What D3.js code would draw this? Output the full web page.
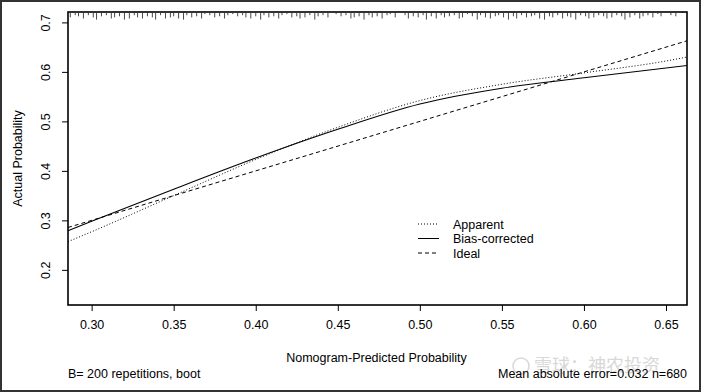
<!DOCTYPE html>
<html>
<head>
<meta charset="utf-8">
<script src="https://cdn.jsdelivr.net/npm/d3@7"></script>
<style>
  body { margin: 0; background: #fff; }
  text { font-family: "Liberation Sans", Arial, sans-serif; fill: #000; }
</style>
</head>
<body>
<div id="chart"></div>
<script>
// calibration curves
var predX = [0.2856, 0.30, 0.35, 0.40, 0.45, 0.50, 0.55, 0.60, 0.65, 0.6628];
var apparent = [0.257, 0.277, 0.350, 0.423, 0.488, 0.542, 0.575, 0.598, 0.622, 0.630];
var biasCorrected = [0.279, 0.298, 0.363, 0.426, 0.484, 0.535, 0.567, 0.588, 0.608, 0.613];
var ideal = [0.2856, 0.6628];

var xTicks = [0.30, 0.35, 0.40, 0.45, 0.50, 0.55, 0.60, 0.65];
var yTicks = [0.2, 0.3, 0.4, 0.5, 0.6, 0.7];

// distribution of predicted risk (spikes at the top)
var rugProb = [0.287,0.290,0.292,0.295,0.298,0.301,0.303,0.306,0.309,0.312,0.314,0.317,0.320,0.323,0.326,0.328,
  0.331,0.334,0.337,0.339,0.342,0.345,0.348,0.350,0.353,0.356,0.358,0.361,0.364,0.367,0.369,0.372,0.375,
  0.378,0.381,0.383,0.386,0.389,0.392,0.394,0.397,0.400,0.403,0.405,0.408,0.411,0.414,0.416,0.419,0.422,
  0.425,0.427,0.430,0.433,0.436,0.438,0.441,0.444,0.447,0.449,0.452,0.455,0.458,0.460,0.463,0.466,0.469,
  0.471,0.474,0.477,0.480,0.482,0.485,0.488,0.491,0.493,0.496,0.499,0.502,0.504,0.507,0.510,0.513,0.515,
  0.518,0.521,0.524,0.526,0.529,0.532,0.535,0.537,0.540,0.543,0.546,0.548,0.551,0.554,0.557,0.559,0.562,
  0.565,0.568,0.570,0.573,0.576,0.579,0.581,0.584,0.587,0.590,0.592,0.595,0.598,0.601,0.603,0.606,0.609,
  0.612,0.614,0.617,0.620,0.623,0.625,0.628,0.631,0.634,0.636,0.639,0.642,0.645,0.647,0.650,0.653,0.656,0.660];
var rugCount = [4,2,3,5,2,4,6,3,2,5,4,3,6,5,2,4,
  5,3,4,6,2,5,4,3,5,6,2,4,3,5,1,2,4,
  3,5,2,1,3,2,4,5,3,6,2,4,3,5,2,1,4,
  3,5,4,2,6,3,2,4,0,1,3,2,5,4,3,6,2,
  4,3,5,2,1,4,0,2,5,3,4,2,6,3,5,2,4,
  3,2,5,4,1,3,6,2,4,5,3,2,4,6,3,5,2,
  4,3,2,5,6,3,4,2,5,3,4,6,2,3,5,4,2,
  3,5,4,2,3,6,4,2,5,3,2,4,1,3,0,2,3];

var W = 701, H = 392;
var margin = { top: 12, right: 14, bottom: 87, left: 68 };
var width = W - margin.left - margin.right;
var height = H - margin.top - margin.bottom;

var root = d3.select("#chart").append("svg")
  .attr("width", W)
  .attr("height", H);

// outer border of the image
root.append("rect")
  .attr("x", 1).attr("y", 1)
  .attr("width", W - 2).attr("height", H - 2)
  .attr("fill", "#fff")
  .attr("stroke", "#333")
  .attr("stroke-width", 2);

var svg = root.append("g")
  .attr("transform", "translate(" + margin.left + "," + margin.top + ")");

var x = d3.scaleLinear().domain([0.2856, 0.6628]).range([0, width]);
var y = d3.scaleLinear().domain([0.129, 0.721]).range([height, 0]);

// x axis
var xAxis = svg.append("g")
  .attr("transform", "translate(0," + height + ")")
  .call(d3.axisBottom(x).tickValues(xTicks).tickFormat(d3.format(".2f")).tickSize(6).tickPadding(9));
xAxis.select(".domain").remove();
xAxis.selectAll("text").style("font-size", "12.5px").attr("font-family", "Liberation Sans");

// y axis, labels parallel to the axis
var yAxis = svg.append("g")
  .call(d3.axisLeft(y).tickValues(yTicks).tickFormat(d3.format(".1f")).tickSize(6));
yAxis.select(".domain").remove();
yAxis.selectAll("text")
  .attr("transform", "rotate(-90)")
  .attr("x", 0)
  .attr("y", -18)
  .attr("dy", 0)
  .style("text-anchor", "middle")
  .style("font-size", "12.5px")
  .attr("font-family", "Liberation Sans");

// rug of predictions along the top
svg.append("g")
  .selectAll("line")
  .data(rugProb)
  .enter()
  .append("line")
  .attr("x1", function (d) { return x(d); })
  .attr("x2", function (d) { return x(d); })
  .attr("y1", 1)
  .attr("y2", function (d, i) { return 1 + rugCount[i] * 1.1; })
  .attr("stroke", "#333")
  .attr("stroke-width", 0.9);

var line = d3.line()
  .curve(d3.curveMonotoneX)
  .x(function (d) { return x(d[0]); })
  .y(function (d) { return y(d[1]); });

svg.append("path")
  .datum(predX.map(function (v, i) { return [v, apparent[i]]; }))
  .attr("d", line)
  .attr("fill", "none")
  .attr("stroke", "#000")
  .attr("stroke-width", 1)
  .attr("stroke-dasharray", "1,2");

svg.append("path")
  .datum(predX.map(function (v, i) { return [v, biasCorrected[i]]; }))
  .attr("d", line)
  .attr("fill", "none")
  .attr("stroke", "#000")
  .attr("stroke-width", 1.1);

svg.append("path")
  .datum(ideal.map(function (v) { return [v, v]; }))
  .attr("d", line)
  .attr("fill", "none")
  .attr("stroke", "#000")
  .attr("stroke-width", 1)
  .attr("stroke-dasharray", "4,3");

// box
svg.append("rect")
  .attr("width", width)
  .attr("height", height)
  .attr("fill", "none")
  .attr("stroke", "#000")
  .attr("stroke-width", 1.6);

// legend
var legendItems = [
  { name: "Apparent", dash: "1,2" },
  { name: "Bias-corrected", dash: null },
  { name: "Ideal", dash: "4,3" }
];
var legend = svg.append("g").attr("transform", "translate(350,212)");
legendItems.forEach(function (d, i) {
  legend.append("line")
    .attr("x1", 0).attr("x2", 21)
    .attr("y1", i * 14.5).attr("y2", i * 14.5)
    .attr("stroke", "#000")
    .attr("stroke-width", 1)
    .attr("stroke-dasharray", d.dash);
  legend.append("text")
    .attr("x", 35)
    .attr("y", i * 14.5 + 4.5)
    .style("font-size", "12.5px")
    .text(d.name);
});

// axis titles
root.append("text")
  .attr("transform", "translate(22," + (margin.top + height / 2) + ") rotate(-90)")
  .style("text-anchor", "middle")
  .style("font-size", "12.5px")
  .text("Actual Probability");

root.append("text")
  .attr("x", margin.left + width / 2 - 1)
  .attr("y", 362)
  .style("text-anchor", "middle")
  .style("font-size", "12.5px")
  .text("Nomogram-Predicted Probability");

// watermark, lies faintly behind the error text
root.append("circle")
  .attr("cx", 521).attr("cy", 366).attr("r", 8)
  .attr("fill", "none").attr("stroke", "#d8d8d8").attr("stroke-width", 1.5);
root.append("text")
  .attr("x", 534)
  .attr("y", 372)
  .style("font-family", "Noto Sans CJK SC")
  .style("font-size", "18px")
  .style("fill", "#d8d8d8")
  .text("雪球：神农投资");

root.append("text")
  .attr("x", 68)
  .attr("y", 378)
  .style("font-size", "12.5px")
  .text("B= 200 repetitions, boot");

root.append("text")
  .attr("x", 687)
  .attr("y", 378)
  .style("text-anchor", "end")
  .style("font-size", "12.5px")
  .text("Mean absolute error=0.032 n=680");
</script>
</body>
</html>
